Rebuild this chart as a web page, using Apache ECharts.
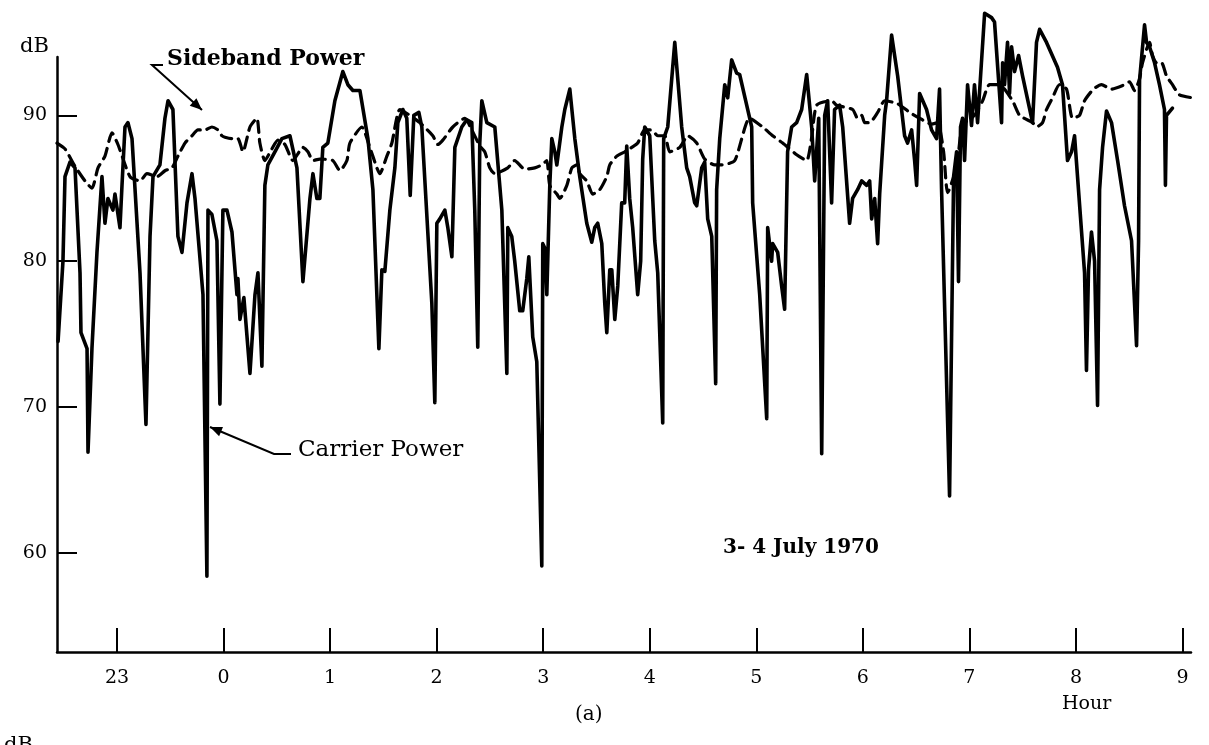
<!DOCTYPE html>
<html>
<head>
<meta charset="utf-8">
<script src="https://cdn.jsdelivr.net/npm/echarts@6/dist/echarts.min.js"></script>
<style>
  html, body { margin: 0; padding: 0; background: #fff; }
  #chart { width: 1209px; height: 745px; }
</style>
</head>
<body>
<div id="chart"></div>
<script>
// ---- Data (hours relative to midnight; negative = previous evening) ----
const tickHours = [-1, 0, 1, 2, 3, 4, 5, 6, 7, 8, 9];
const dbTicks = [60, 70, 80, 90];

const carrierHour = [
  -1.553, -1.507, -1.488, -1.441, -1.394, -1.347, -1.338, -1.281, -1.272, -1.235,
  -1.188, -1.141, -1.113, -1.085, -1.038, -1.019, -0.972, -0.953, -0.925, -0.897,
  -0.859, -0.784, -0.728, -0.690, -0.662, -0.597, -0.550, -0.521, -0.475, -0.428,
  -0.390, -0.343, -0.296, -0.268, -0.193, -0.156, -0.146, -0.109, -0.062, -0.034,
  -0.006, 0.032, 0.079, 0.126, 0.135, 0.154, 0.191, 0.248, 0.295, 0.323,
  0.360, 0.388, 0.416, 0.482, 0.548, 0.623, 0.689, 0.745, 0.811, 0.839,
  0.876, 0.904, 0.932, 0.979, 1.045, 1.120, 1.167, 1.214, 1.280, 1.355,
  1.402, 1.458, 1.486, 1.514, 1.561, 1.608, 1.636, 1.683, 1.720, 1.752,
  1.786, 1.833, 1.861, 1.955, 1.983, 2.002, 2.030, 2.077, 2.105, 2.143,
  2.171, 2.236, 2.283, 2.330, 2.358, 2.386, 2.405, 2.424, 2.471, 2.546,
  2.612, 2.659, 2.668, 2.705, 2.733, 2.780, 2.808, 2.846, 2.865, 2.902,
  2.940, 2.987, 2.996, 3.015, 3.034, 3.062, 3.081, 3.109, 3.128, 3.175,
  3.203, 3.250, 3.297, 3.343, 3.409, 3.456, 3.484, 3.512, 3.550, 3.578,
  3.597, 3.625, 3.644, 3.672, 3.700, 3.737, 3.765, 3.784, 3.812, 3.840,
  3.887, 3.915, 3.934, 3.953, 4.000, 4.047, 4.075, 4.122, 4.131, 4.169,
  4.235, 4.300, 4.347, 4.375, 4.422, 4.441, 4.488, 4.516, 4.544, 4.582,
  4.619, 4.628, 4.657, 4.704, 4.732, 4.769, 4.816, 4.844, 4.910, 4.957,
  4.966, 5.032, 5.098, 5.107, 5.144, 5.154, 5.201, 5.238, 5.266, 5.294,
  5.332, 5.379, 5.426, 5.473, 5.520, 5.548, 5.586, 5.614, 5.642, 5.670,
  5.707, 5.735, 5.782, 5.811, 5.876, 5.904, 5.951, 5.989, 6.036, 6.064,
  6.083, 6.111, 6.139, 6.158, 6.205, 6.223, 6.270, 6.327, 6.392, 6.420,
  6.458, 6.486, 6.505, 6.533, 6.598, 6.645, 6.692, 6.720, 6.739, 6.814,
  6.852, 6.880, 6.898, 6.917, 6.936, 6.955, 6.983, 7.020, 7.048, 7.077,
  7.143, 7.208, 7.236, 7.302, 7.312, 7.330, 7.358, 7.377, 7.396, 7.424,
  7.462, 7.499, 7.593, 7.630, 7.659, 7.724, 7.827, 7.874, 7.921, 7.959,
  7.987, 8.053, 8.081, 8.099, 8.118, 8.146, 8.175, 8.203, 8.222, 8.250,
  8.287, 8.334, 8.391, 8.456, 8.522, 8.569, 8.588, 8.597, 8.644, 8.663,
  8.691, 8.738, 8.784, 8.831, 8.840, 8.850, 8.906
];
const carrierDb = [
  74.5, 80.0, 85.8, 86.8, 86.4, 79.2, 75.1, 74.0, 66.9, 74.0,
  80.6, 85.8, 82.6, 84.3, 83.5, 84.6, 82.3, 85.2, 89.2, 89.5,
  88.4, 79.2, 68.8, 81.7, 85.8, 86.6, 89.8, 91.0, 90.4, 81.7,
  80.6, 84.0, 86.0, 84.3, 77.7, 58.4, 83.5, 83.2, 81.4, 70.2,
  83.5, 83.5, 82.0, 77.7, 78.8, 76.0, 77.5, 72.3, 77.7, 79.2,
  72.8, 85.2, 86.6, 87.5, 88.4, 88.6, 86.4, 78.6, 84.3, 86.0,
  84.3, 84.3, 87.8, 88.1, 91.0, 93.0, 92.1, 91.7, 91.7, 88.4,
  84.9, 74.0, 79.4, 79.3, 83.5, 86.4, 89.5, 90.4, 89.8, 84.5,
  90.0, 90.2, 89.2, 77.1, 70.3, 82.6, 82.9, 83.5, 82.3, 80.3,
  87.8, 89.2, 89.7, 89.5, 83.5, 74.1, 88.1, 91.0, 89.5, 89.2,
  83.5, 72.3, 82.3, 81.7, 80.0, 76.6, 76.6, 78.8, 80.3, 74.8,
  73.1, 59.1, 81.2, 80.9, 77.7, 85.2, 88.4, 87.5, 86.6, 89.2,
  90.4, 91.8, 88.4, 85.8, 82.6, 81.3, 82.3, 82.6, 81.2, 77.1,
  75.1, 79.4, 79.4, 76.0, 78.3, 84.0, 84.0, 87.9, 84.3, 82.3,
  77.7, 80.0, 87.0, 89.2, 88.6, 81.4, 79.2, 68.9, 88.4, 89.2,
  95.0, 89.2, 86.4, 85.8, 84.0, 83.8, 86.4, 86.8, 82.9, 81.7,
  71.6, 84.9, 88.4, 92.1, 91.2, 93.8, 92.9, 92.8, 90.7, 89.2,
  84.0, 77.7, 69.2, 82.3, 80.0, 81.2, 80.6, 78.3, 76.7, 87.5,
  89.2, 89.5, 90.4, 92.8, 89.2, 85.5, 89.8, 66.8, 90.0, 91.0,
  84.0, 90.4, 90.7, 89.2, 82.6, 84.3, 84.9, 85.5, 85.2, 85.5,
  82.9, 84.3, 81.2, 84.6, 90.0, 91.0, 95.5, 92.7, 88.6, 88.1,
  89.0, 86.9, 85.2, 91.5, 90.4, 89.0, 88.4, 91.8, 84.9, 63.9,
  85.8, 87.5, 78.6, 89.2, 89.8, 86.9, 92.1, 89.3, 92.1, 89.5,
  97.0, 96.7, 96.4, 89.5, 93.6, 92.1, 95.0, 91.5, 94.7, 93.0,
  94.1, 92.7, 89.5, 95.0, 95.9, 95.0, 93.3, 92.1, 86.9, 87.5,
  88.6, 82.0, 79.2, 72.5, 79.4, 82.0, 80.0, 70.1, 84.9, 87.8,
  90.3, 89.5, 86.9, 83.8, 81.4, 74.2, 81.4, 92.4, 96.2, 95.0,
  94.7, 93.6, 92.1, 90.4, 85.2, 90.0, 90.5
];

const sidebandHour = [
  -1.563, -1.488, -1.394, -1.300, -1.235, -1.178, -1.113, -1.047, -0.991, -0.878,
  -0.784, -0.719, -0.625, -0.550, -0.484, -0.428, -0.362, -0.296, -0.240, -0.174,
  -0.109, -0.053, -0.015, 0.013, 0.079, 0.135, 0.182, 0.248, 0.313, 0.341,
  0.388, 0.454, 0.510, 0.576, 0.651, 0.745, 0.792, 0.839, 0.904, 1.026,
  1.092, 1.158, 1.186, 1.298, 1.373, 1.439, 1.467, 1.533, 1.580, 1.655,
  1.748, 1.842, 1.964, 2.011, 2.058, 2.152, 2.265, 2.330, 2.405, 2.452,
  2.499, 2.546, 2.668, 2.733, 2.827, 2.921, 2.987, 3.034, 3.062, 3.128,
  3.156, 3.222, 3.269, 3.316, 3.343, 3.409, 3.465, 3.531, 3.597, 3.625,
  3.690, 3.765, 3.831, 3.887, 3.953, 4.019, 4.075, 4.141, 4.188, 4.282,
  4.357, 4.441, 4.516, 4.610, 4.676, 4.798, 4.938, 5.060, 5.154, 5.248,
  5.379, 5.473, 5.520, 5.567, 5.707, 5.754, 5.904, 5.951, 5.989, 6.017,
  6.064, 6.139, 6.205, 6.327, 6.440, 6.533, 6.645, 6.702, 6.758, 6.796,
  6.880, 6.927, 6.955, 7.048, 7.124, 7.189, 7.283, 7.405, 7.471, 7.593,
  7.630, 7.687, 7.724, 7.780, 7.846, 7.912, 7.968, 8.034, 8.081, 8.165,
  8.240, 8.334, 8.456, 8.503, 8.550, 8.597, 8.625, 8.691, 8.719, 8.757,
  8.804, 8.850, 8.906, 8.972, 9.094
];
const sidebandDb = [
  88.1, 87.7, 86.5, 85.5, 85.0, 86.4, 87.2, 88.8, 88.0, 85.8,
  85.5, 86.0, 85.8, 86.2, 86.4, 87.2, 88.1, 88.6, 89.0, 89.0,
  89.2, 89.0, 88.6, 88.5, 88.4, 88.4, 87.5, 89.2, 89.8, 88.1,
  86.9, 87.7, 88.3, 88.0, 86.9, 87.8, 87.5, 86.9, 87.0, 86.9,
  86.2, 86.9, 88.1, 89.2, 87.8, 86.4, 86.0, 87.2, 88.1, 90.4,
  90.0, 89.5, 88.6, 88.0, 88.3, 89.2, 89.8, 89.0, 87.9, 87.5,
  86.4, 86.0, 86.4, 86.9, 86.3, 86.4, 86.6, 86.9, 85.2, 84.6,
  84.3, 85.2, 86.4, 86.6, 86.0, 85.5, 84.6, 84.9, 85.8, 86.6,
  87.2, 87.5, 87.8, 88.1, 89.0, 89.0, 88.6, 88.6, 87.5, 87.8,
  88.6, 88.1, 87.0, 86.6, 86.6, 86.9, 89.8, 89.2, 88.6, 88.1,
  87.3, 86.9, 88.5, 90.7, 91.0, 90.7, 90.4, 89.8, 90.0, 89.5,
  89.5, 90.2, 91.0, 90.8, 90.2, 89.8, 89.4, 89.5, 87.5, 84.7,
  86.5, 89.2, 89.5, 90.0, 91.0, 92.1, 92.1, 91.0, 90.0, 89.5,
  89.2, 89.5, 90.4, 91.2, 92.1, 91.8, 89.8, 90.0, 91.0, 91.8,
  92.1, 91.8, 92.1, 92.3, 91.7, 92.5, 93.6, 95.0, 94.1, 93.6,
  93.6, 92.7, 92.1, 91.4, 91.2
];

const carrierData = carrierHour.map((h, i) => [h, carrierDb[i]]);
const sidebandData = sidebandHour.map((h, i) => [h, sidebandDb[i]]);

// ---- Chart ----
const FONT = 'DejaVu Serif';
const chart = echarts.init(document.getElementById('chart'), null, { renderer: 'canvas' });

function arrowHead(tip, tail, len, half) {
  const dx = tip[0] - tail[0], dy = tip[1] - tail[1];
  const d = Math.sqrt(dx * dx + dy * dy);
  const ux = dx / d, uy = dy / d;
  const bx = tip[0] - ux * len, by = tip[1] - uy * len;
  return [tip, [bx - uy * half, by + ux * half], [bx + uy * half, by - ux * half]];
}

const sbTip = [202, 110], sbBend = [152, 65], sbStart = [163, 65];
const cpTip = [210, 427], cpBend = [274, 454], cpStart = [291, 454];

const option = {
  animation: false,
  backgroundColor: '#ffffff',
  grid: { left: 57, right: 18, top: 57, bottom: 93, containLabel: false },
  xAxis: {
    type: 'value',
    min: -1.563,
    max: 9.08,
    splitLine: { show: false },
    axisLine: { show: true, onZero: false, lineStyle: { color: '#000', width: 2.5 } },
    axisTick: { show: true, inside: true, length: 24, customValues: tickHours, lineStyle: { color: '#000', width: 2 } },
    axisLabel: {
      customValues: tickHours,
      margin: 17,
      color: '#000',
      fontFamily: FONT,
      fontSize: 19,
      formatter: function (v) { return String(v < 0 ? v + 24 : v); }
    }
  },
  yAxis: {
    type: 'value',
    min: 53.2,
    max: 94,
    splitLine: { show: false },
    axisLine: { show: true, onZero: false, lineStyle: { color: '#000', width: 2.5 } },
    axisTick: { show: true, inside: true, length: 20, customValues: dbTicks, lineStyle: { color: '#000', width: 2 } },
    axisLabel: {
      customValues: dbTicks,
      margin: 10,
      color: '#000',
      fontFamily: FONT,
      fontSize: 19
    }
  },
  series: [
    {
      name: 'Sideband Power',
      type: 'line',
      data: sidebandData,
      showSymbol: false,
      symbol: 'none',
      clip: false,
      smooth: 0.2,
      lineStyle: { color: '#000', width: 3.2, type: [11, 7], cap: 'round' },
      z: 2
    },
    {
      name: 'Carrier Power',
      type: 'line',
      data: carrierData,
      showSymbol: false,
      symbol: 'none',
      clip: false,
      lineStyle: { color: '#000', width: 3.6, join: 'round', cap: 'round' },
      z: 3
    }
  ],
  graphic: [
    { type: 'text', left: 20, top: 36, style: { text: 'dB', font: '21px "DejaVu Serif"', fill: '#000' } },
    { type: 'text', left: 4, top: 735, style: { text: 'dB', font: '21px "DejaVu Serif"', fill: '#000' } },
    { type: 'text', left: 167, top: 48, style: { text: 'Sideband Power', font: 'bold 22px "DejaVu Serif"', fill: '#000' } },
    { type: 'polyline', shape: { points: [sbStart, sbBend, sbTip] }, style: { stroke: '#000', lineWidth: 2, fill: null } },
    { type: 'polygon', shape: { points: arrowHead(sbTip, sbBend, 12, 5) }, style: { fill: '#000' } },
    { type: 'text', left: 298, top: 439, style: { text: 'Carrier Power', font: '23px "DejaVu Serif"', fill: '#000' } },
    { type: 'polyline', shape: { points: [cpStart, cpBend, cpTip] }, style: { stroke: '#000', lineWidth: 2, fill: null } },
    { type: 'polygon', shape: { points: arrowHead(cpTip, cpBend, 12, 5) }, style: { fill: '#000' } },
    { type: 'text', left: 723, top: 538, style: { text: '3- 4 July 1970', font: 'bold 20px "DejaVu Serif"', fill: '#000' } },
    { type: 'text', left: 575, top: 705, style: { text: '(a)', font: '20px "DejaVu Serif"', fill: '#000' } },
    { type: 'text', left: 1062, top: 695, style: { text: 'Hour', font: '19px "DejaVu Serif"', fill: '#000' } }
  ]
};
chart.setOption(option);
</script>
</body>
</html>
